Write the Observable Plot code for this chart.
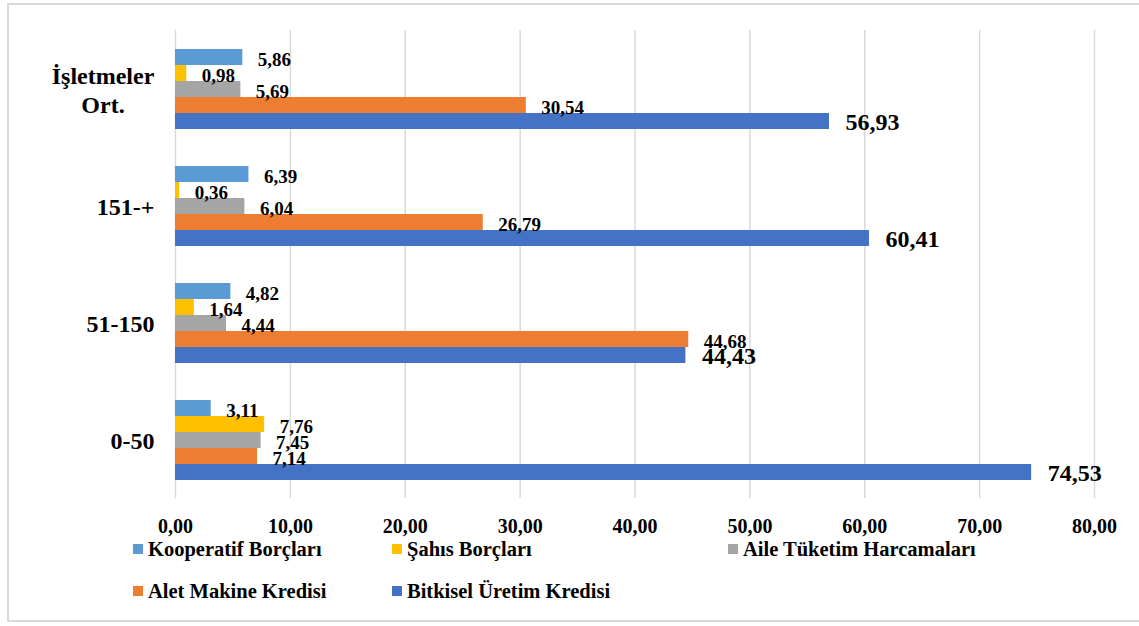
<!DOCTYPE html>
<html>
<head>
<meta charset="utf-8">
<script src="https://cdn.jsdelivr.net/npm/d3@7"></script>
<script src="https://cdn.jsdelivr.net/npm/@observablehq/plot@0.6"></script>
<style>
  html, body { margin: 0; padding: 0; background: #fff; }
  #wrap { position: relative; width: 1139px; height: 626px; overflow: hidden; background: #fff;
          font-family: "Liberation Serif", "Times New Roman", serif; font-weight: bold; color: #000; }
  #border { position: absolute; left: 7px; top: 3px; width: 1150px; height: 619px;
            border: 2px solid #d9d9d9; box-sizing: border-box; pointer-events: none; }
  #chart svg { display: block; }
  #legend { position: relative; height: 86px; }
  .item { position: absolute; display: flex; align-items: center; height: 24px; line-height: 24px;
          font-size: 20.5px; white-space: nowrap; }
  .sw { width: 10px; height: 10px; margin-right: 5px; flex: none; }
</style>
</head>
<body>
<div id="wrap">
  <div id="chart"></div>
  <div id="legend"></div>
  <div id="border"></div>
</div>
<script>
// ---- data ----
const categories = ["İşletmeler Ort.", "151-+", "51-150", "0-50"];
const categoryLabels = ["İşletmeler\nOrt.", "151-+", "51-150", "0-50"];
const series = ["Kooperatif Borçları", "Şahıs Borçları", "Aile Tüketim Harcamaları", "Alet Makine Kredisi", "Bitkisel Üretim Kredisi"];
const colors = ["#5B9BD5", "#FFC000", "#A5A5A5", "#ED7D31", "#4472C4"];
const kooperatif = [5.86, 6.39, 4.82, 3.11];
const sahis = [0.98, 0.36, 1.64, 7.76];
const aile = [5.69, 6.04, 4.44, 7.45];
const alet = [30.54, 26.79, 44.68, 7.14];
const bitkisel = [56.93, 60.41, 44.43, 74.53];
const xTicks = [0, 10, 20, 30, 40, 50, 60, 70, 80];

const values = [kooperatif, sahis, aile, alet, bitkisel];
const data = [];
series.forEach((s, si) => categories.forEach((c, ci) => data.push({series: s, category: c, value: values[si][ci]})));
const fmt = v => v.toFixed(2).replace(".", ",");
const big = series[4];

const chart = Plot.plot({
  width: 1139,
  height: 540,
  marginLeft: 175,
  marginRight: 45,
  marginTop: 30,
  marginBottom: 42,
  style: {fontFamily: "'Liberation Serif', 'Times New Roman', serif", fontWeight: "bold", fontSize: "20px", color: "#000", background: "transparent"},
  x: {domain: [0, 80], axis: null},
  y: {domain: series, paddingInner: 0, paddingOuter: 1.09, axis: null},
  fy: {domain: categories, padding: 0, axis: null},
  color: {domain: series, range: colors},
  marks: [
    Plot.gridX(xTicks, {stroke: "#d9d9d9", strokeOpacity: 1, strokeWidth: 1.5}),
    Plot.barX(data, {x: "value", y: "series", fy: "category", fill: "series"}),
    Plot.text(data.filter(d => d.series !== big), {x: "value", y: "series", fy: "category", text: d => fmt(d.value),
      textAnchor: "start", dx: 15, dy: 2, fontSize: 19, fill: "#000"}),
    Plot.text(data.filter(d => d.series === big), {x: "value", y: "series", fy: "category", text: d => fmt(d.value),
      textAnchor: "start", dx: 16, dy: 1, fontSize: 24, fill: "#000"}),
    Plot.axisX(xTicks, {anchor: "bottom", tickSize: 0, tickPadding: 20, tickFormat: fmt, fontSize: 20, label: null}),
    Plot.axisFy({anchor: "left", tickSize: 0, tickPadding: 21, fontSize: 24, lineHeight: 1.2, label: null,
      tickFormat: d => categoryLabels[categories.indexOf(d)]})
  ]
});
document.getElementById("chart").appendChild(chart);

// centre multi-line category label (Excel style)
chart.querySelectorAll("text").forEach(t => {
  if (t.querySelectorAll("tspan").length > 1) {
    const w = t.getBBox().width;
    t.setAttribute("text-anchor", "middle");
    t.setAttribute("transform", (t.getAttribute("transform") || "") + ` translate(${-w / 2},0)`);
  }
});

// legend
const legendPos = [[133, -3], [392, -3], [728, -3], [133, 39], [392, 39]];
const legend = document.getElementById("legend");
series.forEach((s, i) => {
  const it = document.createElement("div");
  it.className = "item";
  it.style.left = legendPos[i][0] + "px";
  it.style.top = legendPos[i][1] + "px";
  const sw = document.createElement("span");
  sw.className = "sw";
  sw.style.background = colors[i];
  const tx = document.createElement("span");
  tx.textContent = s;
  it.appendChild(sw); it.appendChild(tx);
  legend.appendChild(it);
});
</script>
</body>
</html>
